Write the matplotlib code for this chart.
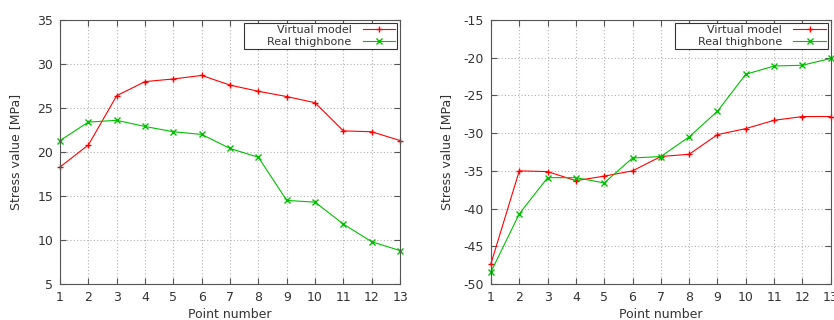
import matplotlib
matplotlib.use("Agg")
import matplotlib.pyplot as plt

plt.rcParams["axes.unicode_minus"] = False

# Point numbers along the bone
points = list(range(1, 14))

# Left panel: tensile stress
virtual_left = [18.3, 20.8, 26.4, 28.0, 28.3, 28.7, 27.6, 26.9, 26.3, 25.6, 22.4, 22.3, 21.3]
real_left = [21.3, 23.4, 23.6, 22.9, 22.3, 22.0, 20.4, 19.4, 14.5, 14.3, 11.8, 9.8, 8.8]

# Right panel: compressive stress
virtual_right = [-47.3, -35.0, -35.1, -36.3, -35.7, -35.0, -33.1, -32.8, -30.2, -29.4, -28.3, -27.8, -27.8]
real_right = [-48.4, -40.7, -35.9, -35.9, -36.6, -33.3, -33.1, -30.5, -27.1, -22.2, -21.1, -21.0, -20.1]

labels = ["Virtual model", "Real thighbone"]

left_ylim = (5, 35)
right_ylim = (-50, -15)

text_col = "#333333"
frame_col = "#555555"


def style_axes(ax, ylim):
    ax.set_xlim(1, 13)
    ax.set_ylim(*ylim)
    ax.set_xticks(points)
    ax.set_yticks(range(ylim[0], ylim[1] + 1, 5))
    ax.grid(True, color="#b0b0b0", linestyle=(0, (1, 2)), linewidth=0.8)
    ax.tick_params(direction="in", length=4, colors=frame_col, labelcolor=text_col,
                   labelsize=9, top=True, right=True, pad=5)
    for s in ax.spines.values():
        s.set_color(frame_col)
        s.set_linewidth(0.8)
    ax.set_xlabel("Point number", fontsize=9, color=text_col)
    ax.set_ylabel("Stress value [MPa]", fontsize=9, color=text_col)
    ax.xaxis.set_label_coords(0.5, -0.092)
    ax.yaxis.set_label_coords(-0.112, 0.5)


def draw_panel(ax, virtual, real, ylim):
    # leading spaces give the wide left padding of the gnuplot key
    ax.plot(points, virtual, color="#ff0000", marker="+", markersize=5,
            linewidth=0.8, label="      " + labels[0], clip_on=False)
    ax.plot(points, real, color="#00c000", marker="x", markersize=4,
            linewidth=0.8, label="      " + labels[1], clip_on=False)
    style_axes(ax, ylim)
    leg = ax.legend(loc="upper right", fontsize=8, markerfirst=False, fancybox=False,
                    framealpha=1, edgecolor="#333333", borderpad=0.2,
                    labelspacing=0.15, handlelength=2.9, handletextpad=1.0,
                    borderaxespad=0.25)
    leg.get_frame().set_linewidth(0.8)
    for t in leg.get_texts():
        t.set_color(text_col)
        t.set_ha("right")


fig = plt.figure(figsize=(8.34, 3.2), dpi=100)
ax1 = fig.add_axes([0.072, 0.1125, 0.4077, 0.825])
ax2 = fig.add_axes([0.5887, 0.1125, 0.4073, 0.825])

draw_panel(ax1, virtual_left, real_left, left_ylim)
draw_panel(ax2, virtual_right, real_right, right_ylim)

fig.savefig("out.png", dpi=100)
